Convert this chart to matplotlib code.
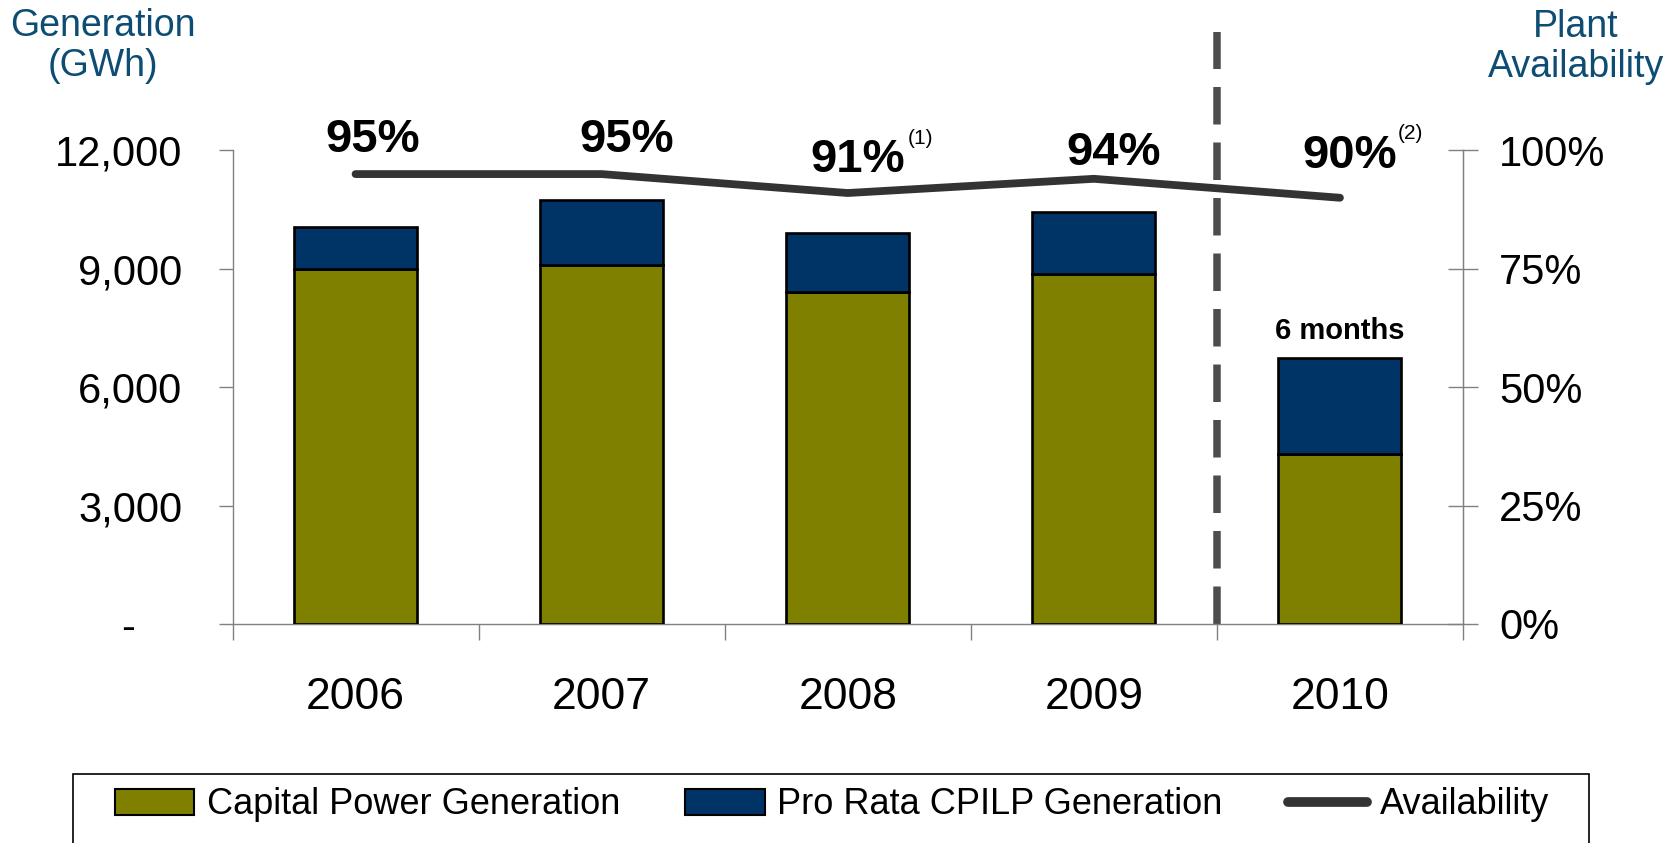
import matplotlib
matplotlib.use("Agg")
import matplotlib.pyplot as plt
from matplotlib.patches import Patch, Rectangle
from matplotlib.lines import Line2D
from matplotlib.ticker import FixedLocator

plt.rcParams['font.family'] = ['Liberation Sans', 'DejaVu Sans']

years = ["2006", "2007", "2008", "2009", "2010"]
capital_power = [9000, 9100, 8400, 8870, 4300]
pro_rata = [1050, 1650, 1500, 1580, 2450]
availability = [95, 95, 91, 94, 90]
avail_labels = ["95%", "95%", "91%", "94%", "90%"]
footnotes = {2: "(1)", 4: "(2)"}
left_ticks = [0, 3000, 6000, 9000, 12000]
left_tick_labels = ["-    ", "3,000", "6,000", "9,000", "12,000"]
right_ticks = [0, 25, 50, 75, 100]
right_tick_labels = ["0%", "25%", "50%", "75%", "100%"]

OLIVE = "#808000"
NAVY = "#003366"
LINEC = "#333333"
TITLEC = "#0D4C73"
AXC = "#808080"

fig = plt.figure(figsize=(16.72, 8.43), dpi=100)
ax = fig.add_axes([232.5/1672, 1-624/843, (1463-232.5)/1672, (624-150.4)/843])
x = list(range(len(years)))

ax.bar(x, capital_power, width=0.5, color=OLIVE, edgecolor="black", linewidth=1.9, zorder=3)
ax.bar(x, pro_rata, width=0.5, bottom=capital_power, color=NAVY, edgecolor="black", linewidth=1.9, zorder=3)

ax.set_xlim(-0.5, 4.5)
ax.set_ylim(0, 12000)
ax.set_yticks(left_ticks)
ax.set_yticklabels(left_tick_labels, fontsize=30)
ax.set_xticks(x)
ax.set_xticklabels(years, fontsize=32)
ax.xaxis.set_minor_locator(FixedLocator([-0.5, 0.5, 1.5, 2.5, 3.5, 4.5]))
ax.tick_params(axis='x', which='major', length=0, pad=38)
ax.tick_params(axis='x', which='minor', length=11.5, width=1, color=AXC, direction='out')
ax.tick_params(axis='y', length=10, width=1, color=AXC, direction='out', pad=26)
ax.spines["top"].set_visible(False)
for s in ["left", "bottom", "right"]:
    ax.spines[s].set_color(AXC)
    ax.spines[s].set_linewidth(1)

# dashed separator
ax.plot([3.5, 3.5], [0, 15000], color="#4D4D4D", lw=5.4, linestyle=(0, (5, 2.4)),
        clip_on=False, zorder=2)

ax.text(4, 7433, "6 months", ha="center", va="center", fontsize=21, fontweight="bold")

ax2 = ax.twinx()
ax2.set_ylim(0, 100)
ax2.set_yticks(right_ticks)
ax2.set_yticklabels(right_tick_labels, fontsize=30)
ax2.tick_params(axis='y', length=22, width=1, color=AXC, direction='inout', pad=15)
for s in ["top", "left", "bottom"]:
    ax2.spines[s].set_visible(False)
ax2.spines["right"].set_color(AXC)
ax2.plot(x, availability, color=LINEC, lw=5.6, solid_capstyle="round",
         solid_joinstyle="round", clip_on=False, zorder=5)

label_pos = [(0.07, 102.3), (1.10, 102.3), (2.04, 98.0), (3.08, 99.5), (4.04, 98.9)]
for (lx, ly), t in zip(label_pos, avail_labels):
    ax2.text(lx, ly, t, ha="center", va="center", fontsize=34, fontweight="bold", clip_on=False)
foot_pos = {2: (2.295, 102.6), 4: (4.285, 103.6)}
for i, t in footnotes.items():
    ax2.text(foot_pos[i][0], foot_pos[i][1], t, ha="center", va="center", fontsize=15, clip_on=False)

fig.text(103/1672, 1-46/843, "Generation\n(GWh)", ha="center", va="center",
         fontsize=27, color=TITLEC, linespacing=1.15)
fig.text(1576/1672, 1-47/843, "Plant\nAvailability", ha="center", va="center",
         fontsize=27, color=TITLEC, linespacing=1.15)

# legend frame
fig.patches.append(Rectangle((72.5/1672, -0.05), (1589-72.5)/1672, 0.05 + 1-774/843,
                             transform=fig.transFigure, fill=False, edgecolor="black",
                             linewidth=1.2))
handles = [Patch(facecolor=OLIVE, edgecolor="black", linewidth=1.5),
           Patch(facecolor=NAVY, edgecolor="black", linewidth=1.5),
           Line2D([0], [0], color=LINEC, lw=7, solid_capstyle="round")]
fig.legend(handles, ["Capital Power Generation", "Pro Rata CPILP Generation", "Availability"],
           loc="center", bbox_to_anchor=(0.4976, 1-805/843), ncol=3, frameon=False,
           fontsize=26, handlelength=2.2, handletextpad=0.35, columnspacing=1.8)

fig.savefig("out.png", dpi=100)
